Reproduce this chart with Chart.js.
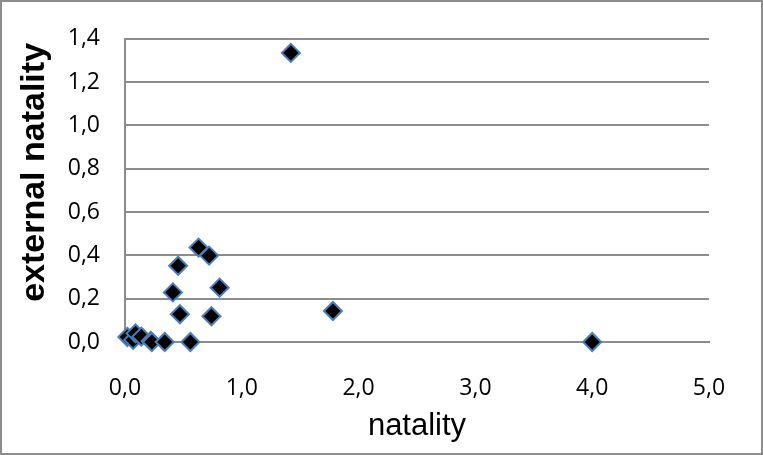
<!DOCTYPE html>
<html>
<head>
<meta charset="utf-8">
<script src="https://cdn.jsdelivr.net/npm/chart.js@4/dist/chart.umd.min.js"></script>
<style>
  body { margin: 0; background: #fff; }
  .wrap { position: relative; width: 763px; height: 455px; }
  .frame { position: absolute; left: 0; top: 0; width: 763px; height: 455px;
           box-sizing: border-box; border: 2px solid #8c8c8c; pointer-events: none; }
</style>
</head>
<body>
<div class="wrap">
  <canvas id="chart" width="763" height="455"></canvas>
  <div class="frame"></div>
</div>
<script>
// Data
const natality = [0.02, 0.07, 0.09, 0.14, 0.22, 0.23, 0.34, 0.41, 0.455, 0.47, 0.56, 0.63, 0.72, 0.74, 0.81, 1.42, 1.78, 4.0];
const externalNatality = [0.023, 0.01, 0.04, 0.025, 0.005, 0.0, 0.0, 0.229, 0.352, 0.128, 0.0, 0.436, 0.399, 0.119, 0.251, 1.335, 0.143, 0.0];

const xTitle = 'natality';
const yTitle = 'external natality';

// Comma as decimal separator
function formatTick(value) {
  return value.toFixed(1).replace('.', ',');
}

const points = natality.map((x, i) => ({ x: x, y: externalNatality[i] }));

const gridColor = '#8c8c8c';
const tickFont = { family: "'Open Sans', sans-serif", size: 23 };
const titleFamily = "'Liberation Sans', Arial, sans-serif";

// Rotated y title, sits a bit above the middle of the plot like in the original
const yTitlePlugin = {
  id: 'yTitle',
  afterDraw(chart) {
    const { ctx, chartArea } = chart;
    ctx.save();
    ctx.translate(35, (chartArea.top + chartArea.bottom) / 2 - 18);
    ctx.rotate(-Math.PI / 2);
    ctx.font = 'bold 34px ' + titleFamily;
    ctx.fillStyle = '#000';
    ctx.textAlign = 'center';
    ctx.textBaseline = 'middle';
    ctx.fillText(yTitle, 0, 0);
    ctx.restore();
  }
};

new Chart(document.getElementById('chart').getContext('2d'), {
  type: 'scatter',
  data: {
    datasets: [{
      data: points,
      pointStyle: 'rectRot',
      pointRadius: 9,
      pointHoverRadius: 9,
      backgroundColor: '#000000',
      borderColor: '#4a7ebb',
      borderWidth: 2,
      clip: false
    }]
  },
  options: {
    responsive: false,
    animation: false,
    devicePixelRatio: 1,
    layout: { padding: { left: 0, right: 54, top: 32, bottom: 0 } },
    plugins: {
      legend: { display: false },
      tooltip: { enabled: false }
    },
    scales: {
      x: {
        type: 'linear',
        min: 0,
        max: 5,
        afterFit: (scale) => { scale.height = 113; },
        grid: { display: false, drawTicks: false },
        border: { display: true, color: gridColor, width: 2 },
        ticks: {
          stepSize: 1,
          padding: 33,
          color: '#000',
          font: tickFont,
          callback: (v) => formatTick(v)
        },
        title: {
          display: true,
          text: xTitle,
          color: '#000',
          font: { family: titleFamily, size: 31 },
          padding: { top: 0, bottom: 10 }
        }
      },
      y: {
        type: 'linear',
        min: 0,
        max: 1.4,
        afterFit: (scale) => { scale.width = 125; },
        grid: { color: gridColor, lineWidth: 2, drawTicks: false },
        border: { display: true, color: gridColor, width: 2 },
        ticks: {
          stepSize: 0.2,
          padding: 25,
          color: '#000',
          font: tickFont,
          callback: (v) => formatTick(v)
        }
      }
    }
  },
  plugins: [yTitlePlugin]
});
</script>
</body>
</html>
